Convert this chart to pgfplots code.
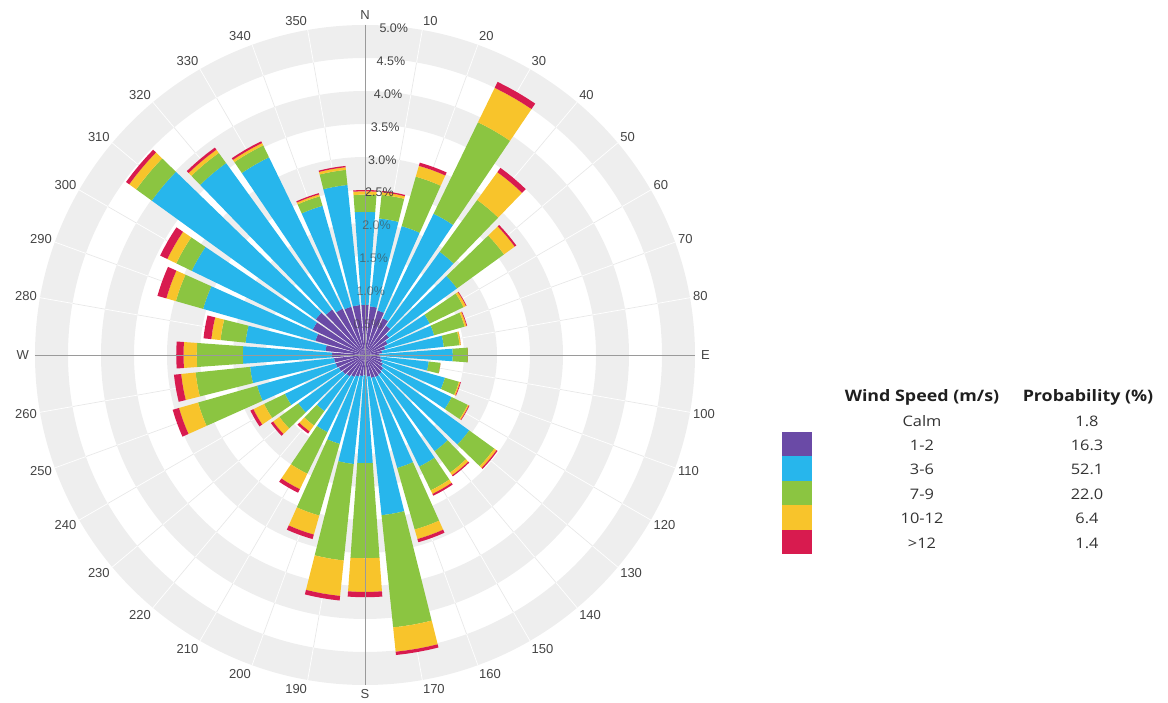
\documentclass[border=0pt]{standalone}
\usepackage{fontspec}
\setmainfont{Liberation Sans}
\newfontfamily\legfont[FakeStretch=1.13]{Open Sans}
\usepackage{pgfplots}
\usepackage{pgfplotstable}
\pgfplotsset{compat=1.18}

\definecolor{cP}{HTML}{6A4AA6}
\definecolor{cB}{HTML}{27B6EC}
\definecolor{cG}{HTML}{8BC541}
\definecolor{cO}{HTML}{F8C42B}
\definecolor{cR}{HTML}{D81B4F}
\definecolor{band}{HTML}{EEEEEE}
\definecolor{gridl}{HTML}{E8E8E8}
\definecolor{axl}{HTML}{9A9A9A}
\definecolor{txt}{HTML}{444444}

% cumulative radii (percent) of the stacked segments per direction
\pgfplotstableread{
a P B G O R
0 0.76 2.17 2.43 2.48 2.50
10 0.74 2.08 2.44 2.48 2.50
20 0.70 2.03 2.81 2.98 3.03
30 0.62 2.38 3.92 4.50 4.60
40 0.55 1.93 2.90 3.42 3.50
50 0.45 1.72 2.60 2.80 2.83
60 0.38 1.09 1.66 1.70 1.71
70 0.32 1.09 1.57 1.60 1.61
80 0.26 1.20 1.44 1.46 1.46
90 0.22 1.33 1.56 1.56 1.56
100 0.24 0.97 1.15 1.15 1.15
110 0.27 1.26 1.48 1.50 1.51
120 0.30 1.46 1.73 1.75 1.76
130 0.34 1.95 2.42 2.46 2.48
140 0.36 1.80 2.20 2.25 2.27
150 0.37 1.88 2.28 2.34 2.37
160 0.36 1.78 2.75 2.90 2.95
170 0.33 2.44 4.15 4.52 4.57
180 0.31 1.64 3.08 3.59 3.67
190 0.32 1.66 3.13 3.67 3.74
200 0.34 1.40 2.53 2.83 2.90
210 0.37 1.30 2.00 2.26 2.32
220 0.40 1.05 1.32 1.43 1.47
230 0.42 1.25 1.60 1.72 1.76
240 0.44 1.35 1.70 1.88 1.93
250 0.46 1.70 2.63 2.93 3.03
260 0.47 1.75 2.58 2.80 2.91
270 0.50 1.85 2.55 2.75 2.86
280 0.60 1.82 2.20 2.34 2.46
290 0.78 2.55 2.98 3.13 3.27
300 0.88 2.92 3.18 3.33 3.45
310 0.92 3.99 4.28 4.41 4.47
320 0.85 3.59 3.78 3.84 3.88
330 0.78 3.33 3.53 3.57 3.60
340 0.76 2.35 2.50 2.53 2.55
350 0.76 2.59 2.82 2.86 2.88
}\windtable

\newcommand\pt[3]{% #1 name, #2 radius, #3 math angle
  \pgfmathsetmacro\tmpx{#2*cos(#3)}\pgfmathsetmacro\tmpy{#2*sin(#3)}%
  \expandafter\edef\csname s#1\endcsname{(\tmpx,\tmpy)}}
\newcommand\sector[4]{% #1 compass angle, #2 inner r, #3 outer r, #4 colour
  \pgfmathsetmacro\mA{90-#1}%
  \pt{a}{#3}{\mA+4.1}\pt{b}{#3}{\mA+2.05}\pt{c}{#3}{\mA}\pt{d}{#3}{\mA-2.05}\pt{e}{#3}{\mA-4.1}%
  \pt{f}{#2}{\mA-4.1}\pt{g}{#2}{\mA-2.05}\pt{h}{#2}{\mA}\pt{k}{#2}{\mA+2.05}\pt{l}{#2}{\mA+4.1}%
  \edef\tmpplot{\noexpand\addplot[fill=#4,draw=none,forget plot] coordinates {\sa\sb\sc\sd\se\sf\sg\sh\sk\sl\sa};}%
  \tmpplot}

\begin{document}
\begin{tikzpicture}[x=1pt,y=1pt]
% background bands
\foreach \ro/\ri in {66/33,132/99,198/165,264/231,330/297}{
  \fill[band,even odd rule] (0,0) circle[radius=\ro pt] circle[radius=\ri pt];}
% radial grid lines
\foreach \a in {0,10,...,350}{
  \foreach \k in {0,...,9}{
    \ifodd\k \def\lc{white}\else\def\lc{gridl}\fi
    \draw[color=\lc,line width=0.7pt] ({90-\a}:{33*\k}) -- ({90-\a}:{33*(\k+1)});
  }}

\begin{axis}[at={(0,0)},anchor=center,x=66pt,y=66pt,
  xmin=-5,xmax=5,ymin=-5,ymax=5,hide axis,clip=false]
\pgfplotsinvokeforeach{0,...,35}{
  \pgfplotstablegetelem{#1}{a}\of\windtable \let\vA\pgfplotsretval
  \pgfplotstablegetelem{#1}{P}\of\windtable \let\vP\pgfplotsretval
  \pgfplotstablegetelem{#1}{B}\of\windtable \let\vB\pgfplotsretval
  \pgfplotstablegetelem{#1}{G}\of\windtable \let\vG\pgfplotsretval
  \pgfplotstablegetelem{#1}{O}\of\windtable \let\vO\pgfplotsretval
  \pgfplotstablegetelem{#1}{R}\of\windtable \let\vR\pgfplotsretval
  \sector{\vA}{0}{\vP}{cP}
  \sector{\vA}{\vP}{\vB}{cB}
  \sector{\vA}{\vB}{\vG}{cG}
  \sector{\vA}{\vG}{\vO}{cO}
  \sector{\vA}{\vO}{\vR}{cR}
}
\end{axis}

% cross lines
\draw[axl,line width=0.8pt] (0,330) -- (0,-330);
\draw[axl,line width=0.8pt] (-330,0) -- (330,0);

% radial percentage labels
\foreach \v in {2.5,3.0,3.5,4.0,4.5,5.0}{
  \node[font=\fontsize{12.5}{14}\selectfont,text=txt,inner sep=0pt,yshift=-2pt] at (85:{66*\v}) {\v\%};}
\foreach \v in {0.5,1.0,1.5,2.0}{
  \node[font=\fontsize{12.5}{14}\selectfont,text=txt,text opacity=0.6,inner sep=0pt,yshift=-2pt] at (85:{66*\v}) {\v\%};}

% direction labels
\foreach \a/\t in {0/N,10/10,20/20,30/30,40/40,50/50,60/60,70/70,80/80,90/E,
  100/100,110/110,120/120,130/130,140/140,150/150,160/160,170/170,180/S,
  190/190,200/200,210/210,220/220,230/230,240/240,250/250,260/260,270/W,
  280/280,290/290,300/300,310/310,320/320,330/330,340/340,350/350}{
  \pgfmathsetmacro\ys{6.5*cos(\a)}
  \def\xs{0}
  \ifnum\a=0 \def\anc{center}\else
    \ifnum\a=180 \def\anc{center}\else
      \ifnum\a<180 \def\anc{west}\else\def\anc{east}\fi\fi\fi
  \ifnum\a=90 \def\xs{3}\fi
  \ifnum\a=270 \def\xs{-3}\fi
  \node[anchor=\anc,inner sep=0pt,xshift=\xs pt,yshift=\ys pt,
        font=\fontsize{13}{15}\selectfont,text=txt] at ({90-\a}:333) {\t};}

% legend table
\begin{scope}[font=\legfont\fontsize{14.5}{16}\selectfont]
\node[font=\legfont\bfseries\fontsize{15.8}{17}\selectfont,text=black!88] at (557,-42) {Wind Speed (m/s)};
\node[font=\legfont\bfseries\fontsize{15.8}{17}\selectfont,text=black!88] at (723,-42) {Probability (\%)};
\foreach \y/\s/\p in {-66/Calm/1.8,-90/1-2/16.3,-114/3-6/52.1,-139/7-9/22.0,-163/10-12/6.4,-188/>12/1.4}{
  \node[text=black!80] at (557,\y) {\s};
  \node[text=black!80] at (722,\y) {\p};}
\end{scope}
\fill[cP] (417,-77) rectangle (447,-101.4);
\fill[cB] (417,-101.4) rectangle (447,-125.8);
\fill[cG] (417,-125.8) rectangle (447,-150.2);
\fill[cO] (417,-150.2) rectangle (447,-174.6);
\fill[cR] (417,-174.6) rectangle (447,-199);

\pgfresetboundingbox
\path[use as bounding box] (-365,-348) rectangle (803,355);
\end{tikzpicture}
\end{document}
